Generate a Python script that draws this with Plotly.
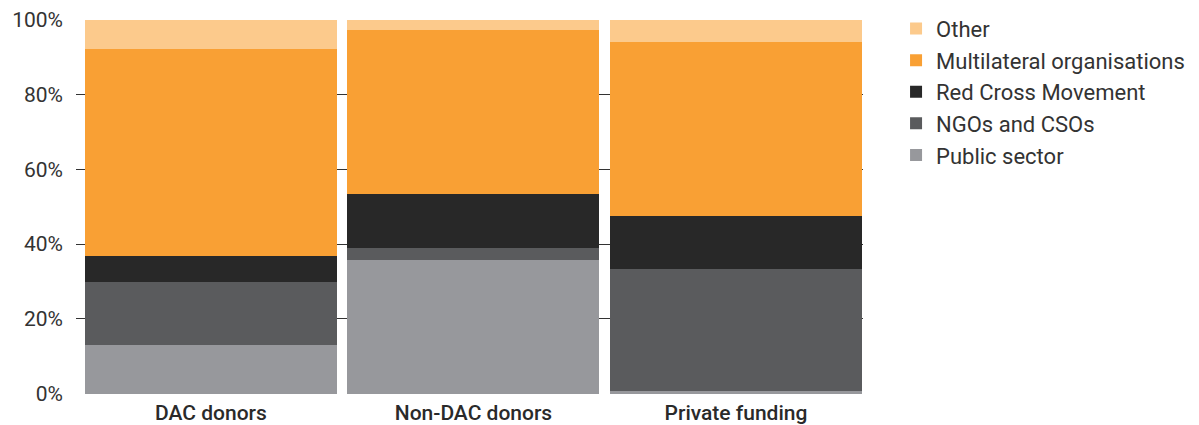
import plotly.graph_objects as go

categories = ["DAC donors", "Non-DAC donors", "Private funding"]

public_sector = [13.0, 35.8, 0.6]
ngos_csos = [16.8, 3.2, 32.8]
red_cross = [7.1, 14.4, 14.2]
multilateral = [55.2, 43.8, 46.4]
other = [7.9, 2.8, 6.0]

series = [
    ("Public sector", public_sector, "#97989c"),
    ("NGOs and CSOs", ngos_csos, "#5a5b5d"),
    ("Red Cross Movement", red_cross, "#282828"),
    ("Multilateral organisations", multilateral, "#f9a034"),
    ("Other", other, "#fcca8c"),
]

fig = go.Figure()
for name, vals, col in series:
    fig.add_trace(go.Bar(
        x=[0, 1, 2],
        y=vals,
        name=name,
        marker=dict(color=col, line=dict(width=0)),
        width=0.96,
        hovertemplate="%{y:.1f}%<extra>" + name + "</extra>",
    ))

# page body has an 8px margin, so the figure is sized/offset to compensate
fig.update_layout(
    barmode="stack",
    width=1191,
    height=417,
    margin=dict(l=68, r=336, t=11, b=31, autoexpand=False),
    plot_bgcolor="white",
    paper_bgcolor="white",
    font=dict(family="Roboto, sans-serif", size=20, color="#333333"),
    showlegend=True,
    legend=dict(
        traceorder="reversed",
        x=1.042, y=1.03, xanchor="left", yanchor="top",
        font=dict(size=22, color="#333333"),
        tracegroupgap=0,
        itemclick=False,
    ),
    xaxis=dict(
        tickmode="array",
        tickvals=[0, 1, 2],
        ticktext=categories,
        range=[-0.514, 2.484],
        showgrid=False,
        zeroline=False,
        showline=False,
        ticks="",
        automargin=False,
        ticklabelstandoff=4,
        tickfont=dict(size=21, color="#2a2a2a", weight=500),
    ),
    yaxis=dict(
        range=[-0.1, 100.2],
        tickvals=[0, 20, 40, 60, 80, 100],
        ticktext=["0%", "20%", "40%", "60%", "80%", "100%"],
        showgrid=True,
        gridcolor="#333333",
        gridwidth=1,
        zeroline=False,
        showline=False,
        ticks="",
        automargin=False,
        ticklabeloverflow="allow",
        ticklabelstandoff=12,
        tickfont=dict(size=21, color="#333333"),
    ),
)

fig.write_html("out.html")
